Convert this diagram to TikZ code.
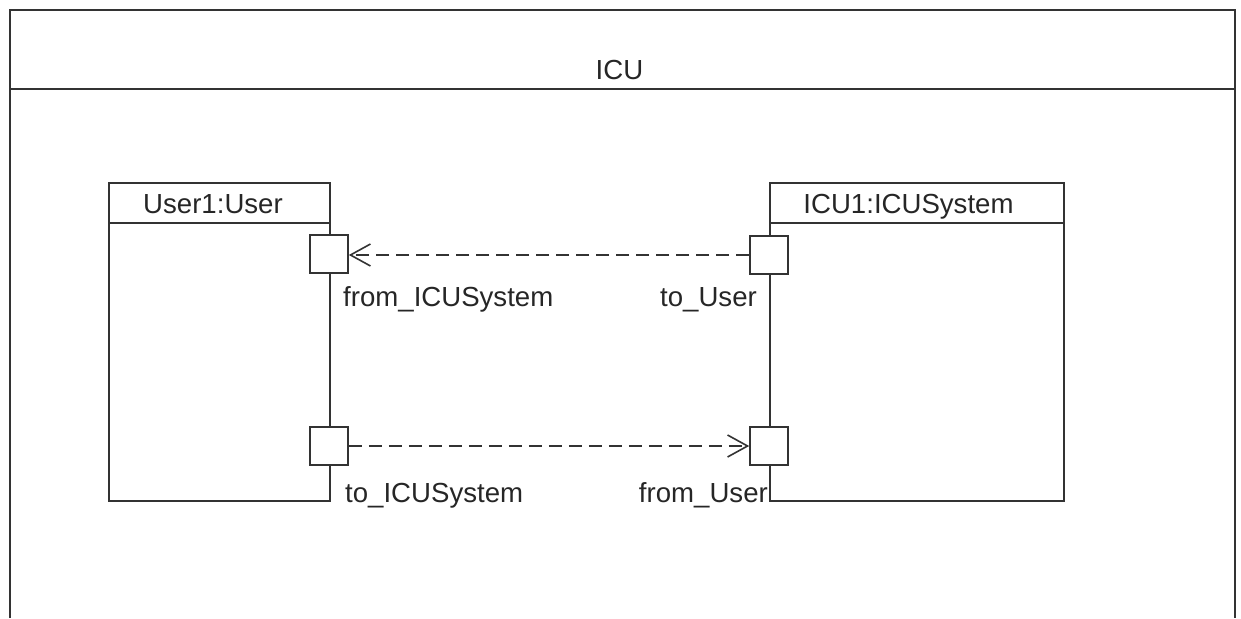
\documentclass[tikz,border=0pt]{standalone}
\usepackage{fontspec}
\setmainfont{Liberation Sans}
\usetikzlibrary{arrows.meta}
\tikzset{
  ln/.style={line width=1.6pt, draw=black!80},
  part/.style={ln, rectangle, inner sep=0pt, anchor=north west},
  port/.style={ln, rectangle, fill=white, inner sep=0pt, minimum size=38pt},
  conn/.style={line width=1.6pt, draw=black!80, dash pattern=on 13pt off 7pt,
     -{Straight Barb[length=20pt,width=22pt,line width=1.6pt]}},
  lbl/.style={inner sep=0pt, font=\fontsize{27.6}{33}\selectfont, text=black!85}
}
\begin{document}
\begin{tikzpicture}[x=1pt,y=-1pt]
\useasboundingbox (0,0) rectangle (1241,618);
% outer frame
\coordinate (fbl) at (10,618);
\coordinate (ftl) at (10,10);
\coordinate (ftr) at (1235,10);
\coordinate (fbr) at (1235,618);
\draw[ln] (fbl) -- (ftl) -- (ftr) -- (fbr);
\coordinate (hl) at (10,89);
\coordinate (hr) at (1235,89);
\draw[ln] (hl) -- (hr);
\node[lbl, anchor=base] (icu) at (619.5,79) {ICU};
% parts
\node[part, minimum width=221pt, minimum height=318pt] (user) at (108,182) {};
\draw[ln] ([yshift=-41pt]user.north west) -- ([yshift=-41pt]user.north east);
\node[lbl, anchor=base] (usert) at (213,213) {User1:User};
\node[part, minimum width=294pt, minimum height=318pt] (sys) at (769,182) {};
\draw[ln] ([yshift=-41pt]sys.north west) -- ([yshift=-41pt]sys.north east);
\node[lbl, anchor=base] (syst) at (908.5,213) {ICU1:ICUSystem};
% ports
\node[port] (p1) at (329,254) {};
\node[port] (p2) at (329,446) {};
\node[port] (p3) at (769,255) {};
\node[port] (p4) at (769,446) {};
% port labels
\node[lbl, anchor=base west] at (343,306) {from\_ICUSystem};
\node[lbl, anchor=base east] at (757,306) {to\_User};
\node[lbl, anchor=base west] at (345,502) {to\_ICUSystem};
\node[lbl, anchor=base east] at (768,502) {from\_User};
% connectors
\draw[conn] (p3.west) -- (p1.east |- p3.west);
\draw[conn] (p2.east) -- (p4.west |- p2.east);
\end{tikzpicture}
\end{document}
